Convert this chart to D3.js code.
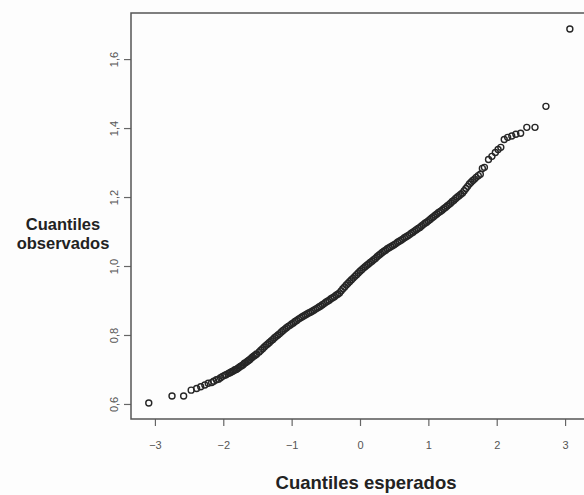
<!DOCTYPE html>
<html>
<head>
<meta charset="utf-8">
<script src="https://cdn.jsdelivr.net/npm/d3@7"></script>
<style>
  body { margin: 0; background: #fdfdfd; }
  svg { display: block; }
</style>
</head>
<body>
<div id="qqplot"></div>
<script>
const width = 584, height = 495;

// Theoretical (expected) quantiles
const cuantilesEsperados = [
  -3.09, -2.75, -2.58,
  -2.47, -2.39, -2.33, -2.27, -2.22, -2.17, -2.14, -2.10, -2.07, -2.04, -2.01,
  -1.98, -1.96, -1.93, -1.91, -1.89, -1.87, -1.85, -1.83, -1.81, -1.79, -1.77,
  -1.75, -1.73, -1.71, -1.69, -1.67, -1.65, -1.63, -1.61, -1.59, -1.57, -1.55,
  -1.53, -1.51,
  -1.475, -1.45, -1.425, -1.40, -1.375, -1.35, -1.325, -1.30, -1.275, -1.25,
  -1.225, -1.20, -1.175, -1.15, -1.125, -1.10, -1.075, -1.05, -1.025, -1.00,
  -0.975, -0.95, -0.925, -0.90, -0.875, -0.85, -0.825, -0.80, -0.775, -0.75,
  -0.725, -0.70, -0.675, -0.65, -0.625, -0.60, -0.575, -0.55, -0.525, -0.50,
  -0.475, -0.45, -0.425, -0.40, -0.375, -0.35, -0.325, -0.30, -0.275, -0.25,
  -0.225, -0.20, -0.175, -0.15, -0.125, -0.10, -0.075, -0.05, -0.025, 0.00,
  0.025, 0.05, 0.075, 0.10, 0.125, 0.15, 0.175, 0.20, 0.225, 0.25,
  0.275, 0.30, 0.325, 0.35, 0.375, 0.40, 0.425, 0.45, 0.475, 0.50,
  0.525, 0.55, 0.575, 0.60, 0.625, 0.65, 0.675, 0.70, 0.725, 0.75,
  0.775, 0.80, 0.825, 0.85, 0.875, 0.90, 0.925, 0.95, 0.975, 1.00,
  1.025, 1.05, 1.075, 1.10, 1.125, 1.15, 1.175, 1.20, 1.225, 1.25,
  1.275, 1.30, 1.325, 1.35, 1.375, 1.40, 1.425, 1.45, 1.475, 1.50,
  1.525, 1.55, 1.575, 1.60, 1.625, 1.65, 1.675, 1.70,
  1.73, 1.76, 1.79, 1.82, 1.88, 1.93, 1.98, 2.02, 2.06, 2.11, 2.16, 2.22,
  2.28, 2.35, 2.44, 2.56, 2.72, 3.07
];

// Observed quantiles (sorted sample values)
const cuantilesObservados = [
  0.603, 0.623, 0.623,
  0.640, 0.645, 0.650, 0.655, 0.660, 0.662, 0.666, 0.670, 0.672, 0.676, 0.680,
  0.683, 0.685, 0.688, 0.690, 0.692, 0.694, 0.696, 0.699, 0.700, 0.703, 0.706,
  0.709, 0.711, 0.714, 0.718, 0.720, 0.723, 0.726, 0.729, 0.733, 0.736, 0.739,
  0.742, 0.745,
  0.751, 0.756, 0.760, 0.765, 0.770, 0.774, 0.778, 0.783, 0.787, 0.792,
  0.796, 0.800, 0.804, 0.809, 0.813, 0.817, 0.821, 0.825, 0.828, 0.832,
  0.835, 0.839, 0.842, 0.846, 0.849, 0.852, 0.855, 0.858, 0.861, 0.864,
  0.866, 0.869, 0.872, 0.875, 0.878, 0.881, 0.884, 0.888, 0.891, 0.895,
  0.898, 0.901, 0.905, 0.908, 0.911, 0.915, 0.918, 0.922, 0.928, 0.934,
  0.939, 0.945, 0.950, 0.955, 0.960, 0.965, 0.970, 0.975, 0.980, 0.985,
  0.989, 0.994, 0.998, 1.002, 1.006, 1.010, 1.014, 1.018, 1.022, 1.027,
  1.031, 1.035, 1.039, 1.043, 1.046, 1.050, 1.053, 1.056, 1.059, 1.062,
  1.065, 1.069, 1.072, 1.075, 1.078, 1.082, 1.085, 1.088, 1.091, 1.095,
  1.098, 1.102, 1.105, 1.109, 1.112, 1.116, 1.120, 1.124, 1.127, 1.131,
  1.135, 1.139, 1.143, 1.147, 1.151, 1.155, 1.158, 1.162, 1.166, 1.170,
  1.174, 1.178, 1.182, 1.187, 1.191, 1.196, 1.200, 1.204, 1.208, 1.212,
  1.218, 1.225, 1.231, 1.238, 1.243, 1.248, 1.252, 1.257,
  1.262, 1.266, 1.283, 1.286, 1.309, 1.318, 1.329, 1.338, 1.344, 1.367, 1.373, 1.377,
  1.382, 1.385, 1.402, 1.402, 1.463, 1.687
];

const xTicks = [-3, -2, -1, 0, 1, 2, 3];
const yTicks = [0.6, 0.8, 1.0, 1.2, 1.4, 1.6];

const puntos = cuantilesEsperados.map((e, i) => ({ x: e, y: cuantilesObservados[i] }));

const svg = d3.select("#qqplot")
  .append("svg")
  .attr("width", width)
  .attr("height", height);

// plot region (R style: 4% padding around the data)
const box = { left: 131, right: 589, top: 13, bottom: 419 };

const x = d3.scaleLinear()
  .domain([-3.35, 3.35])
  .range([box.left, box.right]);

const y = d3.scaleLinear()
  .domain([0.5564, 1.7336])
  .range([box.bottom, box.top]);

// points
svg.append("g")
  .selectAll("circle")
  .data(puntos)
  .enter()
  .append("circle")
  .attr("cx", d => x(d.x))
  .attr("cy", d => y(d.y))
  .attr("r", 3)
  .attr("fill", "none")
  .attr("stroke", "#262626")
  .attr("stroke-width", 1.4);

// x axis
const xAxis = svg.append("g")
  .attr("transform", `translate(0,${box.bottom})`)
  .call(d3.axisBottom(x).tickValues(xTicks).tickSize(7).tickPadding(15).tickFormat(d3.format("d")));
xAxis.select(".domain").remove();
xAxis.selectAll("line").attr("stroke", "#666").attr("stroke-width", 1.2);
xAxis.selectAll("text")
  .attr("fill", "#555")
  .style("font-family", "Liberation Sans, Arial, sans-serif")
  .style("font-size", "11px");

// y axis, labels rotated as in R (las = 0), decimal comma
const yAxis = svg.append("g")
  .attr("transform", `translate(${box.left},0)`)
  .call(d3.axisLeft(y).tickValues(yTicks).tickSize(7).tickFormat(d => d3.format(".1f")(d).replace(".", ",")));
yAxis.select(".domain").remove();
yAxis.selectAll("line").attr("stroke", "#666").attr("stroke-width", 1.2);
yAxis.selectAll("text")
  .attr("x", null)
  .attr("dy", null)
  .attr("transform", "translate(-17,0) rotate(-90)")
  .attr("text-anchor", "middle")
  .attr("dominant-baseline", "central")
  .attr("fill", "#555")
  .style("font-family", "Liberation Sans, Arial, sans-serif")
  .style("font-size", "11px");

// frame
svg.append("rect")
  .attr("x", box.left)
  .attr("y", box.top)
  .attr("width", box.right - box.left)
  .attr("height", box.bottom - box.top)
  .attr("fill", "none")
  .attr("stroke", "#555")
  .attr("stroke-width", 1.5);

// axis titles
svg.append("text")
  .attr("x", 366)
  .attr("y", 489)
  .attr("text-anchor", "middle")
  .attr("fill", "#222")
  .style("font-family", "Liberation Sans, Arial, sans-serif")
  .style("font-weight", "bold")
  .style("font-size", "18.5px")
  .text("Cuantiles esperados");

const yTitle = svg.append("text")
  .attr("text-anchor", "middle")
  .attr("fill", "#222")
  .style("font-family", "Liberation Sans, Arial, sans-serif")
  .style("font-weight", "bold")
  .style("font-size", "16.5px");
yTitle.append("tspan").attr("x", 63).attr("y", 230).text("Cuantiles");
yTitle.append("tspan").attr("x", 63).attr("y", 249).text("observados");
</script>
</body>
</html>
